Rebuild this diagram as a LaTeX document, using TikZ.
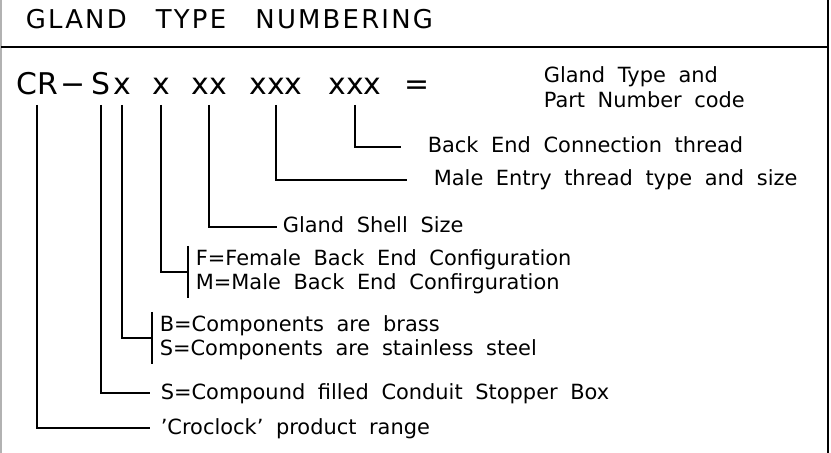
\documentclass[tikz,border=0pt]{standalone}
\usepackage{fontspec}
\setmainfont{DejaVu Sans}
\newfontfamily\titlefont{DejaVu Sans}[LetterSpace=8.5,WordSpace=2.8]
\newfontfamily\labelfont{DejaVu Sans}[WordSpace=1.9]
\begin{document}
\begin{tikzpicture}[x=1bp,y=-1bp,line width=1.6bp,
  titletext/.style={anchor=base west,inner sep=0,font=\titlefont\fontsize{26}{30}\selectfont},
  codetext/.style={anchor=base,inner sep=0,font=\fontsize{30}{36}\selectfont},
  lab/.style={anchor=west,inner sep=0,text height=12bp,text depth=0bp,font=\labelfont\fontsize{21}{24}\selectfont},
  twolab/.style={anchor=north west,inner sep=0,align=left,font=\labelfont\fontsize{21}{25}\selectfont},
  bracketlab/.style={anchor=north west,inner xsep=7bp,inner ysep=3bp,align=left,font=\labelfont\fontsize{21}{24}\selectfont},
  link/.style={line width=1.6bp}]
\useasboundingbox (0,0) rectangle (831,453);
% frame
\draw[gray!60,line width=2bp] (1,0) -- (1,453);
\draw (828,0) -- (828,453);
\draw (1,47) -- (828,47);
% title
\node[titletext] (title) at (25,29) {GLAND TYPE NUMBERING};
% code line
\node[codetext] (cr) at (37,95) {CR};
\node[codetext] (dash) at (73,95) {−};
\node[codetext] (s) at (101,95) {S};
\node[codetext] (xa) at (122,95) {x};
\node[codetext] (xb) at (161,95) {x};
\node[codetext] (xc) at (209,95) {xx};
\node[codetext] (xd) at (276,95) {xxx};
\node[codetext] (xe) at (355,95) {xxx};
\node[codetext] (eq) at (417,95) {=};
\node[twolab] (gtype) at (543,66) {Gland Type and\\Part Number code};
% labels
\node[lab] (back) at (427,147) {Back End Connection thread};
\node[lab] (male) at (433,180) {Male Entry thread type and size};
\node[lab] (shell) at (282,227) {Gland Shell Size};
\node[bracketlab] (fm) at (188,246) {F=Female Back End Configuration\\M=Male Back End Confirguration};
\node[bracketlab] (bs) at (152,312) {B=Components are brass\\S=Components are stainless steel};
\node[lab] (comp) at (160,393) {S=Compound filled Conduit Stopper Box};
\node[lab] (croc) at (160,428) {’Croclock’ product range};
% connectors
\draw[link] ([yshift=-10bp]xe.base) |- ([xshift=-26bp]back.west);
\draw[link] ([yshift=-10bp]xd.base) |- ([xshift=-26bp]male.west);
\draw[link] ([yshift=-10bp]xc.base) |- ([xshift=-5bp]shell.west);
\draw[link] ([yshift=-10bp]xb.base) |- (fm.west);
\draw[link] (fm.north west) -- (fm.south west);
\draw[link] ([yshift=-10bp]xa.base) |- (bs.west);
\draw[link] (bs.north west) -- (bs.south west);
\draw[link] ([yshift=-10bp]s.base) |- ([xshift=-10bp]comp.west);
\draw[link] ([yshift=-10bp]cr.base) |- ([xshift=-10bp]croc.west);
\end{tikzpicture}
\end{document}
